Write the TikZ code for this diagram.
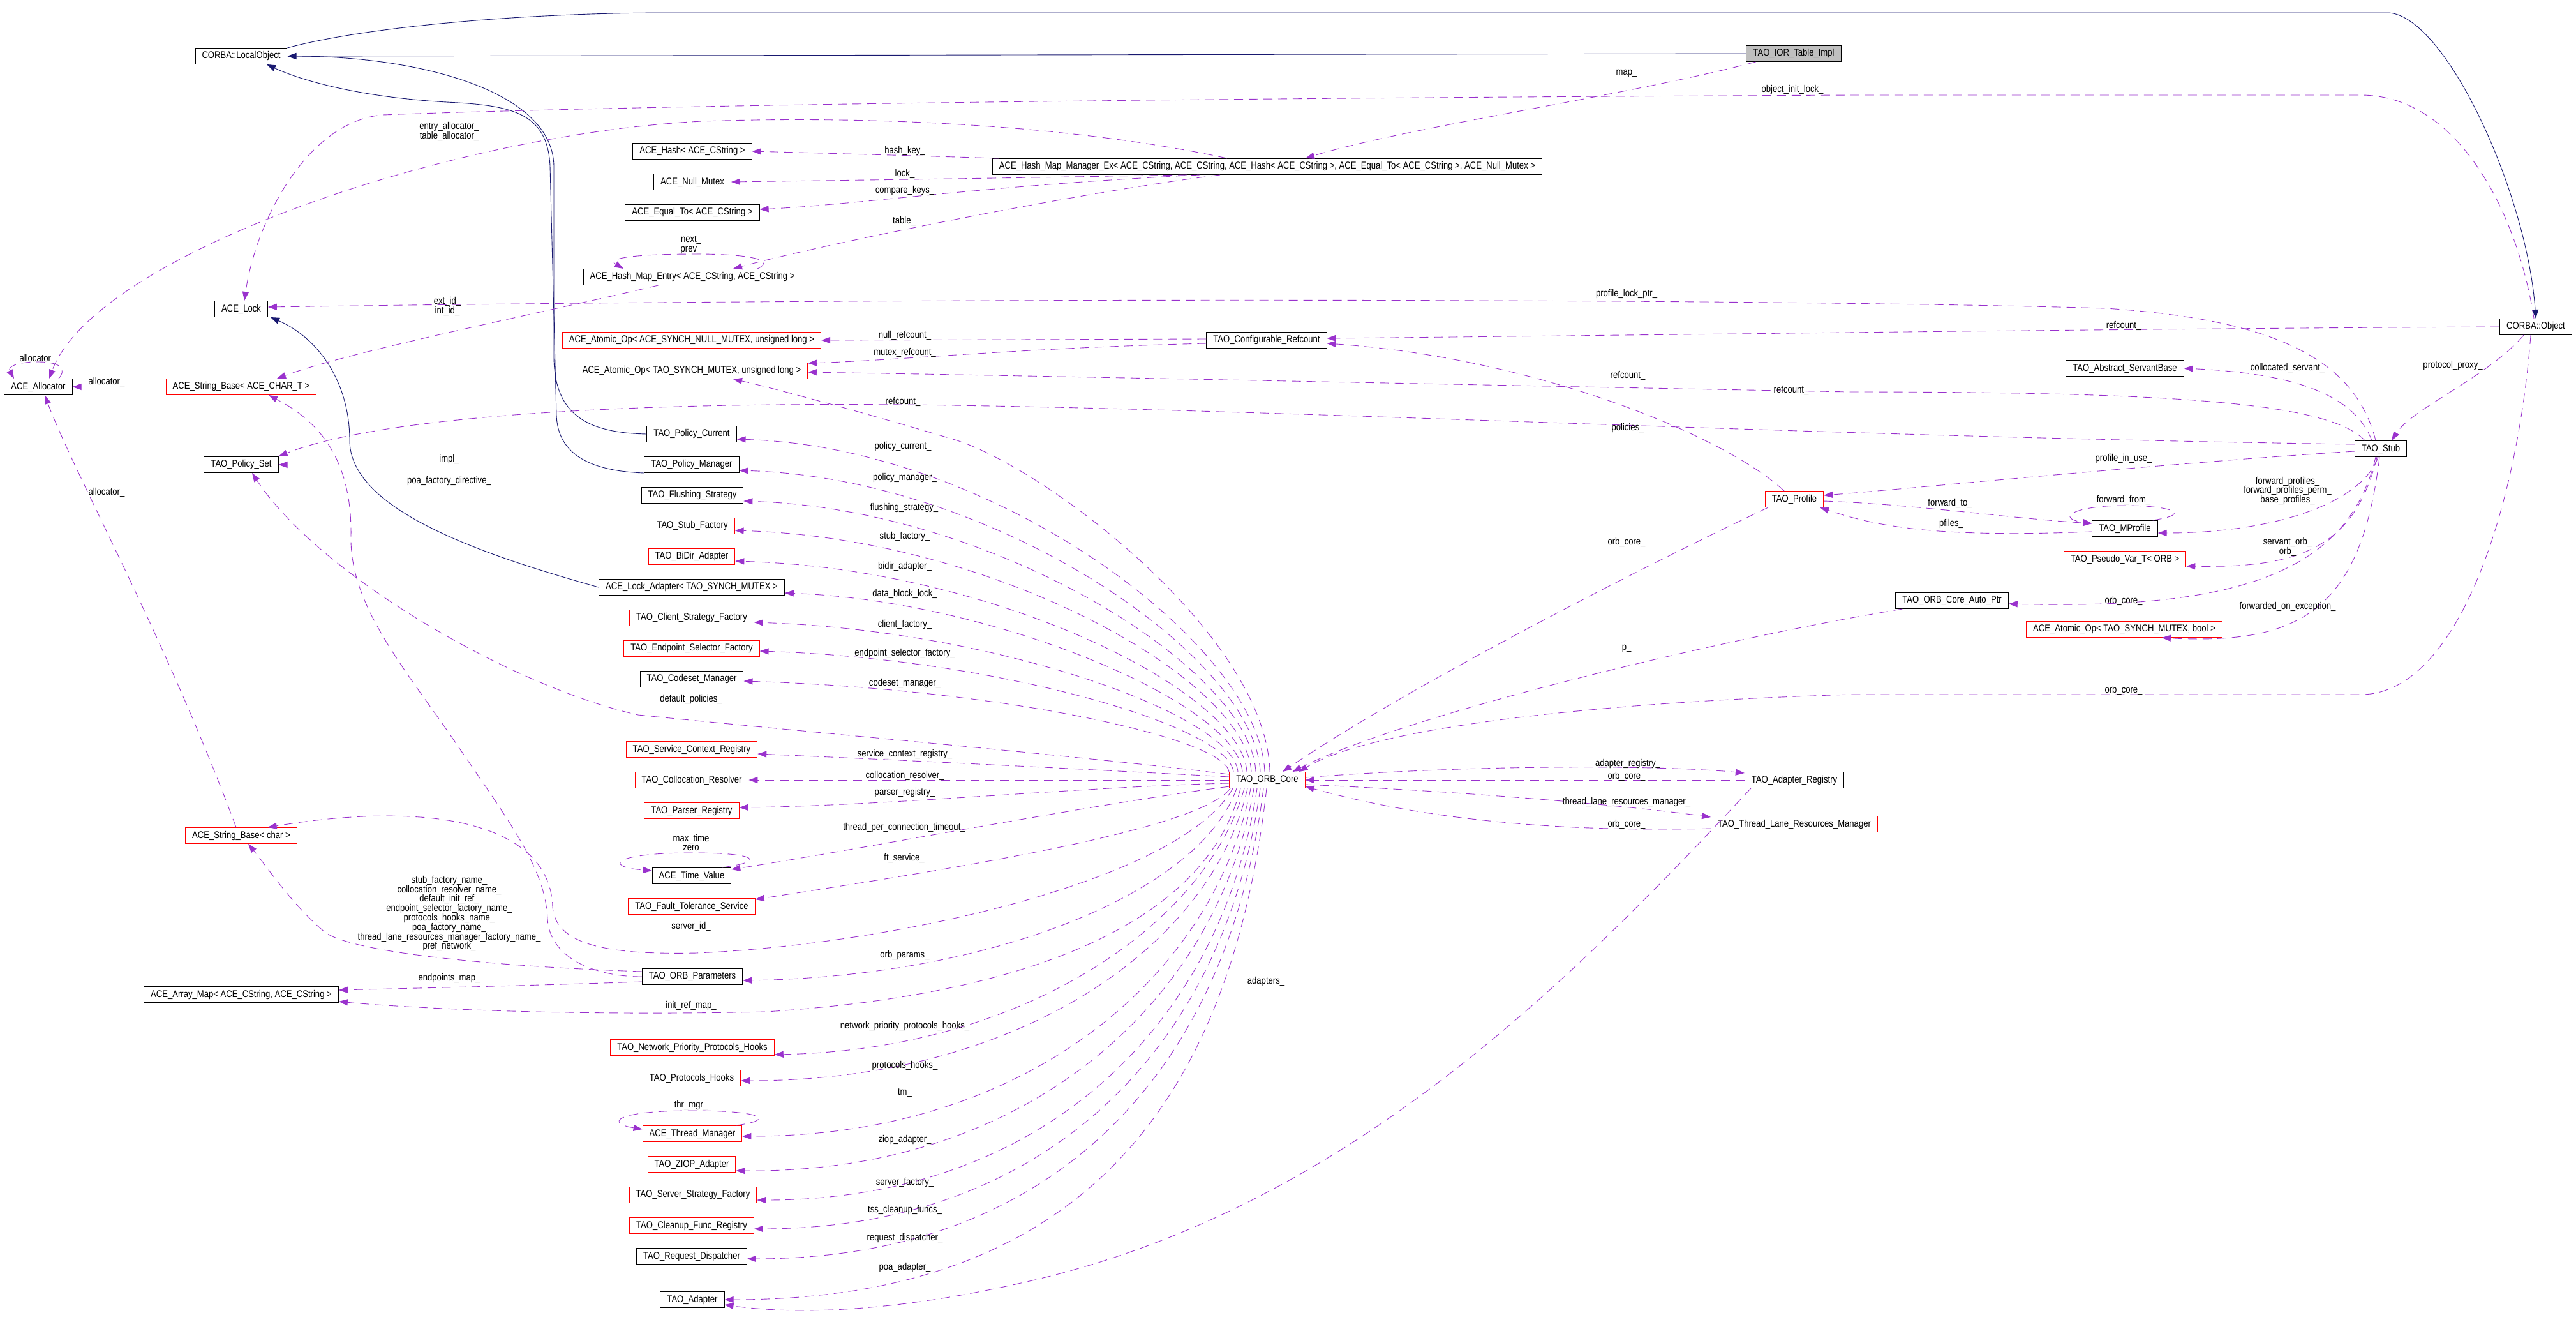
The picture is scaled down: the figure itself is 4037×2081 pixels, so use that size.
\documentclass[tikz,border=0pt]{standalone}
\usepackage{fontspec}
\setmainfont{Liberation Sans}[FakeStretch=0.85]
\usetikzlibrary{arrows.meta,calc}
\definecolor{inhcol}{HTML}{191970}
\definecolor{usecol}{HTML}{9A32CD}
\definecolor{boxred}{HTML}{FF0000}
\definecolor{boxgray}{HTML}{BFBFBF}
\newcommand\dfont{\fontsize{15.4}{14.8}\selectfont}
\begin{document}
\begin{tikzpicture}[x=1pt,y=-1pt,
  every node/.style={font=\dfont},
  box/.style={draw=black, line width=1pt, minimum height=25pt, inner xsep=10.5pt, inner ysep=1pt},
  rbox/.style={box, draw=boxred},
  lbl/.style={inner sep=0pt, align=center},
  inhr/.style={draw=inhcol, line width=0.9pt, -{Triangle[length=14pt,width=10pt]}},
  usg/.style={draw=usecol, line width=0.9pt, dash pattern=on 14pt off 9pt, -{Triangle[length=14pt,width=10pt]}},
]
\useasboundingbox (0,0) rectangle (4037,2081);

% ---------- nodes ----------
\node[box, fill=boxgray] (ior) at (2811,84) {TAO\_IOR\_Table\_Impl};
\node[box] (lobj) at (378,88) {CORBA::LocalObject};
\node[box] (obj) at (3974,512) {CORBA::Object};
\node[box] (lock) at (378,484) {ACE\_Lock};
\node[box] (alloc) at (60,606) {ACE\_Allocator};
\node[rbox] (sbt) at (378,606) {ACE\_String\_Base< ACE\_CHAR\_T >};
\node[box] (pset) at (378,728) {TAO\_Policy\_Set};
\node[rbox] (sbc) at (378,1309) {ACE\_String\_Base< char >};
\node[box] (amap) at (378,1558) {ACE\_Array\_Map< ACE\_CString, ACE\_CString >};
\node[box] (hash) at (1085,237) {ACE\_Hash< ACE\_CString >};
\node[box] (nullm) at (1085,285) {ACE\_Null\_Mutex};
\node[box] (equal) at (1085,333) {ACE\_Equal\_To< ACE\_CString >};
\node[box] (entry) at (1085,434) {ACE\_Hash\_Map\_Entry< ACE\_CString, ACE\_CString >};
\node[rbox] (aonull) at (1084,533) {ACE\_Atomic\_Op< ACE\_SYNCH\_NULL\_MUTEX, unsigned long >};
\node[rbox] (aomutex) at (1084,581) {ACE\_Atomic\_Op< TAO\_SYNCH\_MUTEX, unsigned long >};
\node[box] (pcur) at (1084,680) {TAO\_Policy\_Current};
\node[box] (pman) at (1084,728) {TAO\_Policy\_Manager};
\node[box] (flush) at (1085,776) {TAO\_Flushing\_Strategy};
\node[rbox] (stubf) at (1085,824) {TAO\_Stub\_Factory};
\node[rbox] (bidir) at (1084,872) {TAO\_BiDir\_Adapter};
\node[box] (lockad) at (1084,920) {ACE\_Lock\_Adapter< TAO\_SYNCH\_MUTEX >};
\node[rbox] (csf) at (1084,968) {TAO\_Client\_Strategy\_Factory};
\node[rbox] (esf) at (1084,1016) {TAO\_Endpoint\_Selector\_Factory};
\node[box] (codeset) at (1084,1064) {TAO\_Codeset\_Manager};
\node[rbox] (scr) at (1084,1174) {TAO\_Service\_Context\_Registry};
\node[rbox] (colres) at (1084,1222) {TAO\_Collocation\_Resolver};
\node[rbox] (parser) at (1084,1270) {TAO\_Parser\_Registry};
\node[box] (tv) at (1084,1372) {ACE\_Time\_Value};
\node[rbox] (ft) at (1084,1420) {TAO\_Fault\_Tolerance\_Service};
\node[box] (params) at (1085,1530) {TAO\_ORB\_Parameters};
\node[rbox] (nph) at (1085,1641) {TAO\_Network\_Priority\_Protocols\_Hooks};
\node[rbox] (ph) at (1084,1689) {TAO\_Protocols\_Hooks};
\node[rbox] (thr) at (1085,1776) {ACE\_Thread\_Manager};
\node[rbox] (ziop) at (1084,1824) {TAO\_ZIOP\_Adapter};
\node[rbox] (ssf) at (1086,1872) {TAO\_Server\_Strategy\_Factory};
\node[rbox] (cfr) at (1084,1920) {TAO\_Cleanup\_Func\_Registry};
\node[box] (rd) at (1084,1968) {TAO\_Request\_Dispatcher};
\node[box] (adapter) at (1085,2036) {TAO\_Adapter};
\node[box] (hmm) at (1986,261) {ACE\_Hash\_Map\_Manager\_Ex< ACE\_CString, ACE\_CString, ACE\_Hash< ACE\_CString >, ACE\_Equal\_To< ACE\_CString >, ACE\_Null\_Mutex >};
\node[box] (cref) at (1985,533) {TAO\_Configurable\_Refcount};
\node[rbox] (orb) at (1986,1222) {TAO\_ORB\_Core};
\node[rbox] (profile) at (2812,782) {TAO\_Profile};
\node[box] (areg) at (2812,1222) {TAO\_Adapter\_Registry};
\node[rbox] (tlrm) at (2812,1291) {TAO\_Thread\_Lane\_Resources\_Manager};
\node[box] (autoptr) at (3059,941) {TAO\_ORB\_Core\_Auto\_Ptr};
\node[box] (asb) at (3330,577) {TAO\_Abstract\_ServantBase};
\node[box] (mprof) at (3330,828) {TAO\_MProfile};
\node[rbox] (pvar) at (3330,876) {TAO\_Pseudo\_Var\_T< ORB >};
\node[rbox] (aobool) at (3329,986) {ACE\_Atomic\_Op< TAO\_SYNCH\_MUTEX, bool >};
\node[box] (stub) at (3731,703) {TAO\_Stub};

% ---------- inheritance ----------
\draw[inhr] (ior.west) -- (lobj.east);
\draw[inhr] (lobj.north east) .. controls (560,45) and (800,20) .. (1050,20) -- (3741,20) .. controls (3830,20) and (3960,300) .. (obj.north);
\draw[inhr] (pcur.west) .. controls (920,678) and (869,650) .. (868,560) -- (868,260) .. controls (866,140) and (650,88) .. (lobj.east);
\draw[inhr] (pman.south west) .. controls (930,738) and (874,715) .. (872,650) -- (862,260) .. controls (858,175) and (800,165) .. (700,160) .. controls (560,152) and (470,125) .. ($(lobj.south)+(40,0)$);
\draw[inhr] (lockad.west) .. controls (760,870) and (548,800) .. (548,690) .. controls (548,600) and (500,530) .. ($(lock.south)+(46,0)$);

% ---------- usage: hash map ----------
\draw[usg] ($(ior.south west)+(15,0)$) .. controls (2550,150) and (2200,200) .. ($(hmm.north)+(60,0)$);
\draw[usg] ($(hmm.north west)+(10,0)$) .. controls (1400,243) .. (hash.east);
\draw[usg] ($(hmm.south)+(-126,0)$) .. controls (1500,280) .. (nullm.east);
\draw[usg] ($(hmm.south)+(-106,0)$) .. controls (1550,290) and (1350,320) .. ($(equal.east)+(0,-5)$);
\draw[usg] ($(hmm.south)+(-74,0)$) .. controls (1700,300) and (1300,380) .. ($(entry.north)+(64,0)$);
\draw[usg] ($(hmm.north)+(-63,0)$) .. controls (1700,200) and (1400,180) .. (1100,190) .. controls (700,210) and (150,400) .. ($(alloc.north)+(17,0)$);
\draw[usg] ($(entry.north)+(102,0)$) .. controls (1215,408) and (1180,398) .. (1091,398) .. controls (990,398) and (950,405) .. ($(entry.north)+(-108,0)$);
\draw[usg] ($(entry.south west)+(118,0)$) .. controls (850,490) and (550,550) .. ($(sbt.north)+(56,0)$);
\draw[usg] ($(obj.north)+(-3,0)$) .. controls (3945,330) and (3850,149) .. (3700,149) -- (2900,149) .. controls (1800,154) and (1000,165) .. (600,180) .. controls (480,190) and (400,350) .. ($(lock.north)+(5,0)$);

% ---------- usage: allocator / strings ----------
\draw[usg] (sbt.west) -- (alloc.east);
\draw[usg] ($(alloc.north)+(32,0)$) .. controls (105,578) and (95,567) .. (60,567) .. controls (25,567) and (12,575) .. ($(alloc.north)+(-38,0)$);
\draw[usg] ($(sbc.north)+(-8,0)$) .. controls (260,1000) and (120,750) .. ($(alloc.south)+(10,0)$);
\draw[usg] (pman.west) -- (pset.east);
\draw[usg] ($(params.west)+(0,-8)$) .. controls (800,1515) and (560,1495) .. (510,1461) .. controls (460,1420) and (420,1360) .. ($(sbc.south)+(11,0)$);
\draw[usg] (params.west) .. controls (930,1530) and (862,1500) .. (858,1440) .. controls (855,1360) and (800,1290) .. (702,1146) .. controls (620,1030) and (548,940) .. (550,840) .. controls (552,720) and (500,660) .. ($(sbt.south)+(43,0)$);
\draw[usg] ($(params.west)+(0,8)$) .. controls (800,1545) and (650,1548) .. ($(amap.east)+(0,-7)$);

% ---------- usage: stub / object ----------
\draw[usg] ($(stub.west)+(0,-7)$) .. controls (2800,683) and (2000,640) .. (1415,634) .. controls (1000,630) and (600,650) .. (pset.north east);
\draw[usg] ($(stub.north west)+(16,0)$) .. controls (3650,630) and (3400,614) .. (2900,614) .. controls (2300,603) and (1700,590) .. ($(aomutex.east)+(0,2)$);
\draw[usg] ($(stub.north)+(-8,0)$) .. controls (3690,560) and (3560,500) .. (3300,483) .. controls (2800,468) and (1500,465) .. ($(lock.east)+(0,-3)$);
\draw[usg] ($(stub.north west)+(27,0)$) .. controls (3690,620) and (3600,585) .. (asb.east);
\draw[usg] ($(obj.south)+(-19,0)$) .. controls (3900,590) and (3780,640) .. ($(stub.north)+(17,0)$);
\draw[usg] (obj.west) .. controls (3300,515) and (2600,525) .. ($(cref.east)+(0,-3)$);
\draw[usg] ($(profile.north)+(-16,0)$) .. controls (2700,680) and (2400,560) .. ($(cref.east)+(0,5)$);
\draw[usg] ($(cref.west)+(0,-2)$) -- (aonull.east);
\draw[usg] ($(cref.west)+(0,5)$) .. controls (1600,545) and (1400,565) .. ($(aomutex.east)+(0,-12)$);
\draw[usg] ($(obj.south)+(-8,0)$) .. controls (3945,800) and (3850,1088) .. (3700,1088) -- (2900,1088) .. controls (2500,1100) and (2150,1140) .. ($(orb.north east)+(-10,0)$);
\draw[usg] ($(autoptr.south west)+(11,0)$) .. controls (2700,1000) and (2200,1120) .. ($(orb.north east)+(-20,0)$);
\draw[usg] ($(profile.south west)+(5,0)$) .. controls (2550,900) and (2200,1080) .. ($(orb.north)+(24,0)$);
\draw[usg] ($(orb.east)+(0,-4)$) .. controls (2300,1198) and (2600,1198) .. ($(areg.west)+(0,-11)$);
\draw[usg] (areg.west) -- (orb.east);
\draw[usg] ($(orb.east)+(0,7)$) .. controls (2300,1240) and (2550,1262) .. ($(tlrm.west)+(0,-11)$);
\draw[usg] ($(tlrm.west)+(0,7)$) .. controls (2400,1305) and (2200,1275) .. ($(orb.south east)+(0,-3)$);
\draw[usg] ($(areg.south west)+(10,0)$) .. controls (2450,1550) and (2100,1900) .. (1600,2010) .. controls (1400,2055) and (1250,2060) .. ($(adapter.east)+(0,8)$);
\draw[usg] ($(stub.west)+(0,4)$) .. controls (3400,725) and (3000,765) .. ($(profile.east)+(0,-6)$);
\draw[usg] ($(profile.east)+(0,3)$) .. controls (3000,790) and (3150,812) .. ($(mprof.west)+(0,-8)$);
\draw[usg] ($(mprof.west)+(0,5)$) .. controls (3050,842) and (2950,828) .. ($(profile.south east)+(-6,0)$);
\draw[usg] ($(mprof.north east)+(-8,0)$) .. controls (3440,805) and (3400,792) .. (3330,792) .. controls (3250,792) and (3220,812) .. ($(mprof.west)+(0,-8)$);
\draw[usg] ($(stub.south)+(-4,0)$) .. controls (3700,790) and (3560,835) .. ($(mprof.east)+(0,7)$);
\draw[usg] ($(stub.south)+(-6,0)$) .. controls (3690,860) and (3600,890) .. ($(pvar.east)+(0,11)$);
\draw[usg] ($(stub.south)+(-8,0)$) .. controls (3680,900) and (3500,955) .. ($(autoptr.east)+(0,5)$);
\draw[usg] ($(stub.south)+(-2,0)$) .. controls (3700,960) and (3600,1010) .. ($(aobool.south east)+(-95,0)$);

% ---------- usage: ORB core fan ----------
\draw[usg] ($(orb.north)+(4,0)$) .. controls (1985,1000) and (1650,740) .. (1500,690) .. controls (1350,645) and (1200,605) .. ($(aomutex.south)+(65,0)$);
\draw[usg] ($(orb.north)+(-4,0)$) .. controls (1974,1011) and (1560,700) .. ($(pcur.east)+(0,8)$);
\draw[usg] ($(orb.north)+(-11,0)$) .. controls (1967,1030) and (1560,749) .. ($(pman.east)+(0,9)$);
\draw[usg] ($(orb.north)+(-18,0)$) .. controls (1960,1049) and (1560,797) .. ($(flush.east)+(0,9)$);
\draw[usg] ($(orb.north)+(-25,0)$) .. controls (1953,1065) and (1560,843) .. ($(stubf.east)+(0,7)$);
\draw[usg] ($(orb.north)+(-32,0)$) .. controls (1946,1084) and (1560,891) .. ($(bidir.east)+(0,7)$);
\draw[usg] ($(orb.north)+(-39,0)$) .. controls (1939,1103) and (1560,941) .. ($(lockad.east)+(0,9)$);
\draw[usg] ($(orb.north)+(-46,0)$) .. controls (1932,1120) and (1560,987) .. ($(csf.east)+(0,7)$);
\draw[usg] ($(orb.north)+(-53,0)$) .. controls (1925,1137) and (1560,1032) .. ($(esf.east)+(0,4)$);
\draw[usg] ($(orb.north)+(-60,0)$) .. controls (1918,1155) and (1560,1079) .. ($(codeset.east)+(0,3)$);
\draw[usg] ($(orb.west)+(0,-9)$) .. controls (1700,1185) and (1300,1150) .. (1000,1120) .. controls (800,1075) and (500,900) .. ($(pset.south)+(17,0)$);
\draw[usg] ($(orb.west)+(0,-5)$) .. controls (1700,1205) and (1400,1190) .. ($(scr.east)+(0,7)$);
\draw[usg] (orb.west) -- (colres.east);
\draw[usg] ($(orb.west)+(0,5)$) .. controls (1700,1232) and (1400,1262) .. ($(parser.east)+(0,-5)$);
\draw[usg] ($(orb.west)+(0,10)$) .. controls (1700,1262) and (1350,1330) .. ($(tv.north east)+(0,3)$);
\draw[usg] ($(tv.north east)+(-15,0)$) .. controls (1200,1350) and (1190,1336) .. (1085,1336) .. controls (960,1336) and (945,1358) .. ($(tv.west)+(0,-8)$);
\draw[usg] ($(orb.south)+(-58,0)$) .. controls (1880,1300) and (1500,1360) .. ($(ft.north east)+(0,2)$);
\draw[usg] ($(orb.south)+(-54,0)$) .. controls (1850,1380) and (1400,1480) .. (1091,1493) .. controls (950,1496) and (870,1480) .. (866,1420) .. controls (862,1300) and (700,1250) .. ($(sbc.north east)+(-46,0)$);
\draw[usg] ($(orb.south)+(-48,0)$) .. controls (1880,1400) and (1550,1530) .. ($(params.east)+(0,6)$);
\draw[usg] ($(orb.south)+(-42,0)$) .. controls (1890,1450) and (1600,1560) .. (1200,1585) .. controls (900,1592) and (650,1580) .. ($(amap.east)+(0,11)$);
\draw[usg] ($(orb.south)+(-36,0)$) .. controls (1890,1450) and (1600,1645) .. ($(nph.east)+(0,11)$);
\draw[usg] ($(orb.south)+(-31,0)$) .. controls (1900,1480) and (1600,1693) .. ($(ph.east)+(0,4)$);
\draw[usg] ($(orb.south)+(-26,0)$) .. controls (1905,1520) and (1620,1780) .. ($(thr.east)+(0,4)$);
\draw[usg] ($(thr.north east)+(-10,0)$) .. controls (1215,1755) and (1200,1740) .. (1085,1740) .. controls (960,1740) and (950,1760) .. ($(thr.west)+(0,-7)$);
\draw[usg] ($(orb.south)+(-21,0)$) .. controls (1910,1560) and (1620,1838) .. ($(ziop.east)+(0,10)$);
\draw[usg] ($(orb.south)+(-16,0)$) .. controls (1915,1600) and (1640,1880) .. ($(ssf.east)+(0,8)$);
\draw[usg] ($(orb.south)+(-11,0)$) .. controls (1920,1640) and (1640,1925) .. ($(cfr.east)+(0,5)$);
\draw[usg] ($(orb.south)+(-6,0)$) .. controls (1925,1680) and (1650,1972) .. ($(rd.east)+(0,4)$);
\draw[usg] ($(orb.south)+(-1,0)$) .. controls (1930,1720) and (1700,2036) .. (adapter.east);

% ---------- labels ----------
\node[lbl] (l1) at (59,562) {allocator\_};
\node[lbl] (l2) at (167,598) {allocator\_};
\node[lbl] (l3) at (167,771) {allocator\_};
\node[lbl] (l4) at (704,206) {entry\_allocator\_\\table\_allocator\_};
\node[lbl] (l5) at (701,480) {ext\_id\_\\int\_id\_};
\node[lbl] (l6) at (704,720) {impl\_};
\node[lbl] (l7) at (704,754) {poa\_factory\_directive\_};
\node[lbl] (l8) at (704,1431) {stub\_factory\_name\_\\collocation\_resolver\_name\_\\default\_init\_ref\_\\endpoint\_selector\_factory\_name\_\\protocols\_hooks\_name\_\\poa\_factory\_name\_\\thread\_lane\_resources\_manager\_factory\_name\_\\pref\_network\_};
\node[lbl] (l9) at (704,1532) {endpoints\_map\_};
\node[lbl] (l10) at (1083,384) {next\_\\prev\_};
\node[lbl] (l11) at (1083,1095) {default\_policies\_};
\node[lbl] (l12) at (1083,1320) {max\_time\\zero};
\node[lbl] (l13) at (1083,1451) {server\_id\_};
\node[lbl] (l14) at (1083,1575) {init\_ref\_map\_};
\node[lbl] (l15) at (1083,1731) {thr\_mgr\_};
\node[lbl] (m1) at (1418,237) {hash\_key\_};
\node[lbl] (m2) at (1418,272) {lock\_};
\node[lbl] (m3) at (1418,299) {compare\_keys\_};
\node[lbl] (m4) at (1417,346) {table\_};
\node[lbl] (m5) at (1418,525) {null\_refcount\_};
\node[lbl] (m6) at (1418,552) {mutex\_refcount\_};
\node[lbl] (m7) at (1415,629) {refcount\_};
\node[lbl] (m8) at (1415,700) {policy\_current\_};
\node[lbl] (m9) at (1418,749) {policy\_manager\_};
\node[lbl] (m10) at (1417,796) {flushing\_strategy\_};
\node[lbl] (m11) at (1418,841) {stub\_factory\_};
\node[lbl] (m12) at (1418,888) {bidir\_adapter\_};
\node[lbl] (m13) at (1418,930) {data\_block\_lock\_};
\node[lbl] (m14) at (1418,979) {client\_factory\_};
\node[lbl] (m15) at (1418,1024) {endpoint\_selector\_factory\_};
\node[lbl] (m16) at (1418,1071) {codeset\_manager\_};
\node[lbl] (m17) at (1418,1181) {service\_context\_registry\_};
\node[lbl] (m18) at (1418,1215) {collocation\_resolver\_};
\node[lbl] (m19) at (1418,1241) {parser\_registry\_};
\node[lbl] (m20) at (1417,1296) {thread\_per\_connection\_timeout\_};
\node[lbl] (m21) at (1417,1344) {ft\_service\_};
\node[lbl] (m22) at (1418,1496) {orb\_params\_};
\node[lbl] (m23) at (1418,1607) {network\_priority\_protocols\_hooks\_};
\node[lbl] (m24) at (1418,1669) {protocols\_hooks\_};
\node[lbl] (m25) at (1418,1712) {tm\_};
\node[lbl] (m26) at (1418,1785) {ziop\_adapter\_};
\node[lbl] (m27) at (1418,1852) {server\_factory\_};
\node[lbl] (m28) at (1418,1895) {tss\_cleanup\_funcs\_};
\node[lbl] (m29) at (1418,1939) {request\_dispatcher\_};
\node[lbl] (m30) at (1418,1985) {poa\_adapter\_};
\node[lbl] (n1) at (1984,1537) {adapters\_};
\node[lbl] (n2) at (2549,115) {map\_};
\node[lbl] (n3) at (2549,461) {profile\_lock\_ptr\_};
\node[lbl] (n4) at (2551,588) {refcount\_};
\node[lbl] (n5) at (2551,671) {policies\_};
\node[lbl] (n6) at (2549,849) {orb\_core\_};
\node[lbl] (n7) at (2549,1016) {p\_};
\node[lbl] (n8) at (2551,1196) {adapter\_registry\_};
\node[lbl] (n9) at (2549,1216) {orb\_core\_};
\node[lbl] (n10) at (2549,1256) {thread\_lane\_resources\_manager\_};
\node[lbl] (n11) at (2549,1291) {orb\_core\_};
\node[lbl] (n12) at (2809,141) {object\_init\_lock\_};
\node[lbl] (n13) at (2807,611) {refcount\_};
\node[lbl] (n14) at (3056,788) {forward\_to\_};
\node[lbl] (n15) at (3058,821) {pfiles\_};
\node[lbl] (n16) at (3328,719) {profile\_in\_use\_};
\node[lbl] (n17) at (3328,783) {forward\_from\_};
\node[lbl] (n18) at (3328,941) {orb\_core\_};
\node[lbl] (n19) at (3328,1081) {orb\_core\_};
\node[lbl] (n20) at (3328,510) {refcount\_};
\node[lbl] (n21) at (3585,576) {collocated\_servant\_};
\node[lbl] (n22) at (3585,769) {forward\_profiles\_\\forward\_profiles\_perm\_\\base\_profiles\_};
\node[lbl] (n23) at (3585,857) {servant\_orb\_\\orb\_};
\node[lbl] (n24) at (3585,951) {forwarded\_on\_exception\_};
\node[lbl] (n25) at (3844,573) {protocol\_proxy\_};
\end{tikzpicture}
\end{document}
